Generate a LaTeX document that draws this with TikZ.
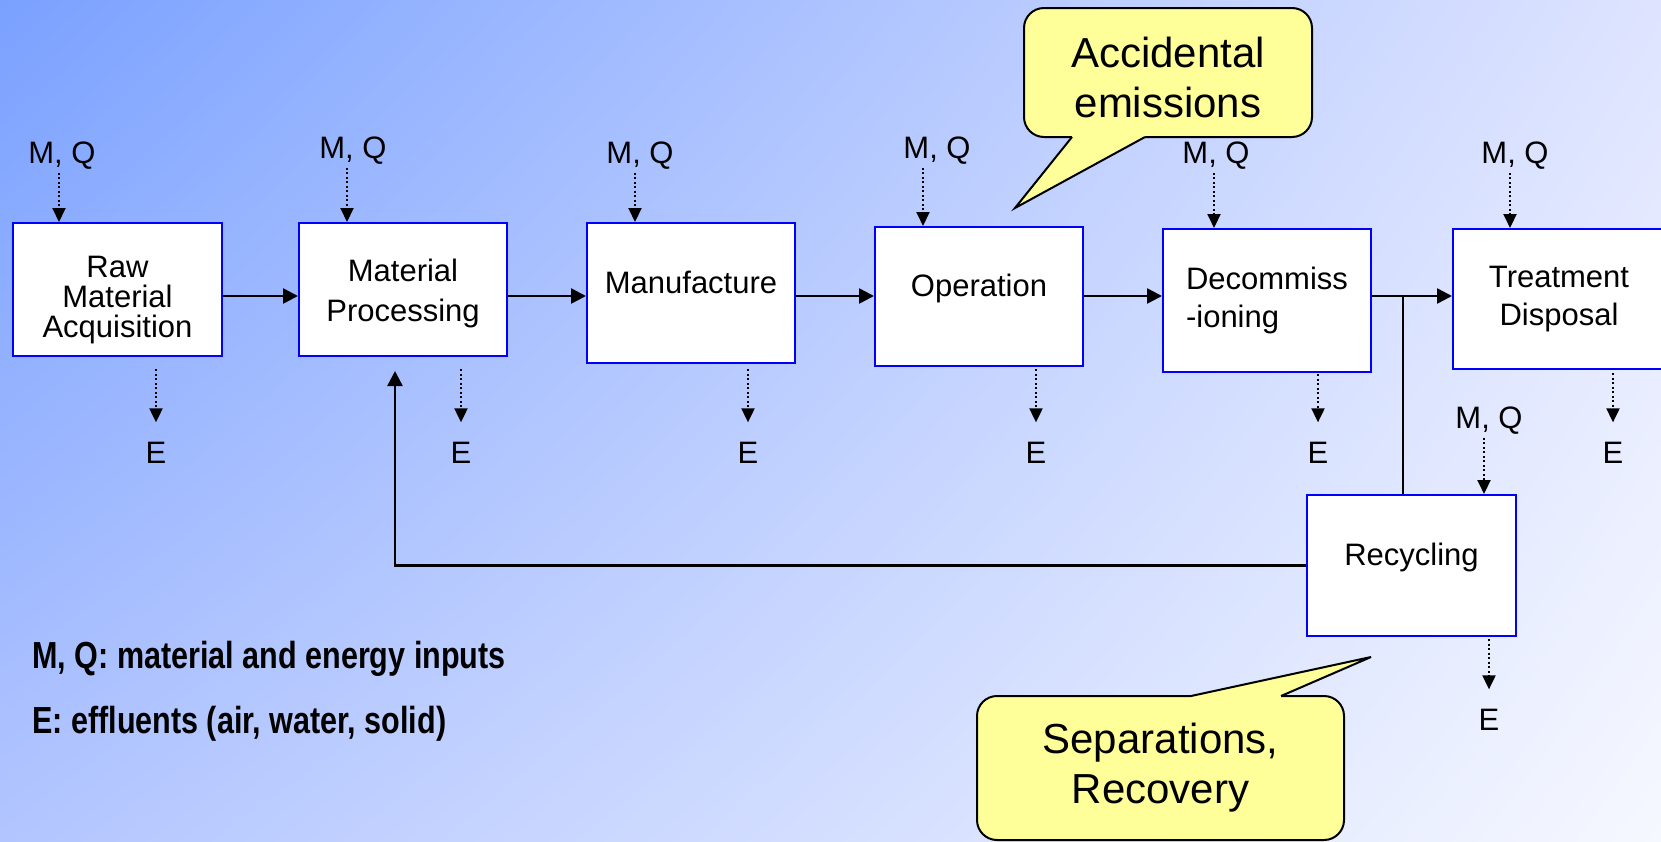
\documentclass[tikz,border=0pt]{standalone}
\usepackage{fontspec}
\setmainfont{Liberation Sans}
\newfontfamily\narrowbold[FakeStretch=0.81]{Liberation Sans Bold}
\usepackage{tikz}
\usetikzlibrary{arrows.meta,shadings}

\definecolor{bgtl}{RGB}{122,161,255}
\definecolor{bgtr}{RGB}{222,228,255}
\definecolor{bgbl}{RGB}{178,197,255}
\definecolor{bgbr}{RGB}{246,248,255}
\definecolor{note}{RGB}{255,255,153}

\tikzset{
  box/.style={draw=blue, line width=2pt, fill=white, inner sep=0pt, minimum width=208pt},
  raised/.style={text depth=22pt},
  callout/.style={draw=black, line width=2pt, fill=note, rounded corners=20pt, align=center,
    font=\fontsize{42}{50}\selectfont},
  flow/.style={line width=2.5pt, -{Triangle[length=15pt,width=15pt]}},
  feed/.style={line width=2pt, dash pattern=on 2pt off 2.5pt, -{Triangle[length=14pt,width=13pt]}},
  inlet/.style={anchor=base, inner sep=0pt, outer ysep=4pt},
  outlet/.style={inner sep=0pt, outer ysep=20pt},
  legend/.style={anchor=base west, inner sep=0pt, font=\fontsize{37.7}{45}\narrowbold}
}

\begin{document}
\begin{tikzpicture}[x=1pt,y=-1pt,every node/.style={font=\fontsize{31}{38}\selectfont}]
    \useasboundingbox (0,0) rectangle (1661,841);
    \shade[upper left=bgtl, upper right=bgtr, lower left=bgbl, lower right=bgbr]
      (0,0) rectangle (1661,841);

    % life cycle stages
    \node[box, minimum width=209pt, minimum height=133pt, align=center, font=\fontsize{31}{30}\selectfont]
      (raw) at (117.5,289.5) {\rule{0pt}{42pt}Raw\\Material\\Acquisition};
    \node[box, minimum height=133pt, align=center, font=\fontsize{31}{40}\selectfont]
      (proc) at (403,289.5) {\rule{0pt}{31pt}Material\\Processing};
    \node[box, raised, minimum height=140pt] (manu) at (691,293) {Manufacture};
    \node[box, raised, minimum height=139pt] (oper) at (979,296.5) {Operation};
    \node[box, minimum height=143pt, align=left] (decom) at (1267,300.5) {Decommiss\\-ioning};
    \node[box, minimum width=212pt, minimum height=140pt, align=center] (treat) at (1559,299) {Treatment\\Disposal};
    \node[box, raised, minimum width=209pt, minimum height=141pt] (recyc) at (1411.5,565.5) {Recycling};

    \coordinate (split) at (1403,296);
    \foreach \a/\b in {raw/proc, proc/manu, manu/oper, oper/decom, decom/treat}
      \draw[flow] (\a.east |- split) -- (\b.west |- split);
    \draw[line width=1.5pt] (split) -- (split |- recyc.north);
    \draw[flow] (recyc.west) -| ([xshift=-8pt,yshift=-14pt]proc.south);

    % inputs M, Q
    \foreach \n/\b/\x/\y/\dx in {1/raw/62/163/-3, 2/proc/353/158/-6, 3/manu/640/163/-5,
        4/oper/937/158/-14, 5/decom/1216/163/-2, 6/treat/1515/163/-5, 7/recyc/1489/428/-5} {
      \node[inlet] (mq\n) at (\x,\y) {M, Q};
      \path ([xshift=\dx pt]mq\n.south) coordinate (top\n);
      \draw[feed] (top\n) -- (top\n |- \b.north);
    }

    % effluents E
    \foreach \n/\b/\x/\y/\gap in {1/raw/156/453/12, 2/proc/461/453/12, 3/manu/748/453/5,
        4/oper/1036/453/2, 5/decom/1318/453/1, 6/treat/1613/453/3, 7/recyc/1489/720/2} {
      \node[outlet] (e\n) at (\x,\y) {E};
      \draw[feed, shorten <=\gap pt] (e\n |- \b.south) -- (e\n.north);
    }

    % callouts
    \node[callout, minimum width=288pt, minimum height=129pt] (acc) at (1168,72.5)
      {\rule{0pt}{41pt}Accidental\\emissions};
    \fill[note] (1072,134) -- (1072,137) -- (1015,208) -- (1145,137) -- (1145,134) -- cycle;
    \draw[line width=2pt] (1072,137) -- (1015,208) -- (1145,137);

    \node[callout, minimum width=367pt, minimum height=144pt] (sep) at (1160.5,768)
      {Separations,\\Recovery};
    \fill[note] (1191,699) -- (1191,696) -- (1371,657) -- (1281,696) -- (1281,699) -- cycle;
    \draw[line width=2pt] (1191,696) -- (1371,657) -- (1281,696);

    % legend
    \node[legend] (keymq) at (32,668) {M, Q: material and energy inputs};
    \node[legend] (keye) at (32,733) {E: effluents (air, water, solid)};
\end{tikzpicture}
\end{document}
